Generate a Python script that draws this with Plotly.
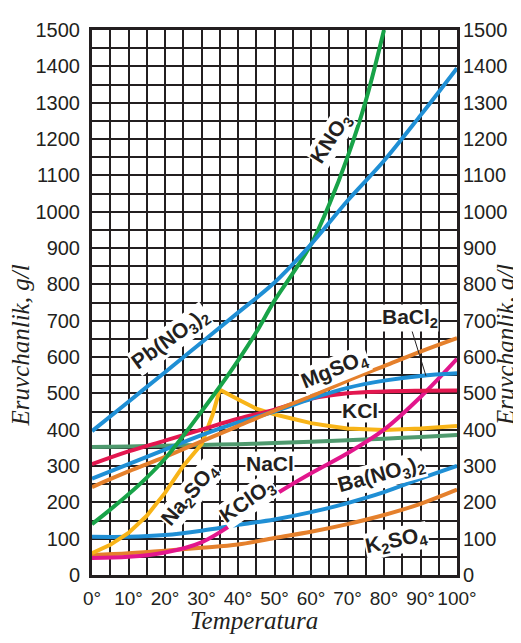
import plotly.graph_objects as go

# Solubility curves, temperature in deg C, values in g/l
t10 = [0, 10, 20, 30, 40, 50, 60, 70, 80, 90, 100]

kno3_t = [0, 5, 10, 15, 20, 25, 30, 35, 40, 45, 50, 55, 60, 65, 70, 75, 80]
kno3 = [140, 180, 222, 268, 320, 383, 450, 518, 590, 668, 755, 830, 910, 1020, 1150, 1305, 1500]

pbno3 = [396, 477, 558, 640, 722, 805, 910, 1030, 1140, 1265, 1395]
kcl = [305, 340, 370, 400, 430, 455, 485, 500, 505, 507, 508]
bacl2 = [265, 305, 345, 385, 420, 450, 485, 515, 535, 548, 555]
mgso4 = [242, 285, 325, 368, 410, 452, 492, 535, 575, 615, 652]
nacl = [352, 354, 356, 358, 360, 363, 367, 371, 375, 380, 385]
kclo3 = [47, 50, 62, 90, 150, 220, 280, 335, 400, 490, 595]
bano3 = [105, 105, 110, 122, 138, 153, 173, 198, 228, 265, 300]
k2so4 = [55, 60, 67, 75, 84, 102, 119, 140, 165, 196, 235]

na2so4_t = [0, 5, 10, 15, 20, 25, 30, 33, 35, 38, 41, 45, 50, 55, 60, 65, 70, 80, 90, 100]
na2so4 = [60, 83, 116, 163, 226, 300, 360, 440, 510, 493, 478, 458, 442, 430, 418, 410, 403, 399, 403, 410]

BLUE = "#1f8fd5"
GREEN = "#18a348"
GREY_GREEN = "#4f9a6e"
RED = "#e3174f"
ORANGE = "#e5802c"
YELLOW = "#f8b418"
MAGENTA = "#e2168c"
INK = "#231f20"

fig = go.Figure()

def curve(x, y, color, shape="spline"):
    fig.add_trace(go.Scatter(x=x, y=y, mode="lines", showlegend=False,
                             line=dict(color=color, width=4, shape=shape),
                             hoverinfo="skip"))

curve(t10, nacl, GREY_GREEN)
curve(t10, k2so4, ORANGE)
curve(t10, bano3, BLUE)
curve(na2so4_t, na2so4, YELLOW, shape="linear")
curve(t10, kclo3, MAGENTA)
curve(t10, kcl, RED)
curve(t10, bacl2, BLUE)
curve(t10, mgso4, ORANGE)
curve(kno3_t, kno3, GREEN)
curve(t10, pbno3, BLUE)

# invisible trace so the right-hand axis is drawn
fig.add_trace(go.Scatter(x=[0], y=[0], yaxis="y2", mode="markers",
                         marker=dict(opacity=0), showlegend=False, hoverinfo="skip"))

# curve labels: (text, x, y, angle)
labels = [
    ("KNO<sub>3</sub>", 65.5, 1200, -57),
    ("Pb(NO<sub>3</sub>)<sub>2</sub>", 21.5, 650, -36),
    ("MgSO<sub>4</sub>", 66.6, 564, -22),
    ("KCl", 73.4, 454, 0),
    ("NaCl", 48.8, 308, 0),
    ("Na<sub>2</sub>SO<sub>4</sub>", 26.8, 220, -50),
    ("KClO<sub>3</sub>", 42.7, 204, -35),
    ("Ba(NO<sub>3</sub>)<sub>2</sub>", 79.2, 275, -15),
    ("K<sub>2</sub>SO<sub>4</sub>", 83.3, 94, -12),
]
label_font = dict(size=21, color=INK, family="Liberation Sans")
for txt, x, y, ang in labels:
    fig.add_annotation(x=x, y=y, text="<b>" + txt + "</b>", showarrow=False,
                       textangle=ang, font=label_font, bgcolor="white", borderpad=0)

fig.add_annotation(x=91.5, y=548, ax=87.1, ay=690, axref="x", ayref="y",
                   text="", showarrow=True, arrowhead=0, arrowwidth=1, arrowcolor=INK)
fig.add_annotation(x=87.1, y=707, text="<b>BaCl<sub>2</sub></b>", showarrow=False,
                   font=label_font, bgcolor="white", borderpad=0)

title_font = dict(size=25, color=INK, family="Liberation Serif")
fig.add_annotation(xref="paper", yref="paper", x=-0.196, y=0.422,
                   xanchor="center", yanchor="middle",
                   text="<i>Eruvchanlik, g/l</i>", showarrow=False,
                   textangle=-90, font=title_font)
fig.add_annotation(xref="paper", yref="paper", x=1.1315, y=0.422,
                   xanchor="center", yanchor="middle",
                   text="<i>Eruvchanlik, g/l</i>", showarrow=False,
                   textangle=-90, font=title_font)
fig.add_annotation(xref="paper", yref="paper", x=0.444, y=-0.083,
                   xanchor="center", yanchor="middle",
                   text="<i>Temperatura</i>", showarrow=False, font=title_font)

tick_font = dict(size=20, color=INK, family="Liberation Sans")
fig.update_layout(
    width=521, height=643,
    margin=dict(l=84, r=72, t=22, b=76),
    paper_bgcolor="white", plot_bgcolor="white",
    xaxis=dict(range=[0, 100], dtick=10, ticksuffix="°", tickangle=0,
               tickfont=dict(size=19, color=INK, family="Liberation Sans"),
               showgrid=True, gridcolor=INK, gridwidth=2,
               minor=dict(dtick=5, showgrid=True, gridcolor=INK, gridwidth=2),
               showline=True, linecolor=INK, linewidth=3, mirror=True,
               zeroline=False, ticklabelstandoff=4),
    yaxis=dict(range=[0, 1500], dtick=100, tickfont=tick_font,
               showgrid=True, gridcolor=INK, gridwidth=2,
               minor=dict(dtick=50, showgrid=True, gridcolor=INK, gridwidth=2),
               showline=True, linecolor=INK, linewidth=3, mirror=True,
               zeroline=False, ticklabelstandoff=5),
    yaxis2=dict(range=[0, 1500], dtick=100, tickfont=tick_font, overlaying="y",
                side="right", showgrid=False, zeroline=False, ticklabelstandoff=5),
)

fig.write_html("out.html")
